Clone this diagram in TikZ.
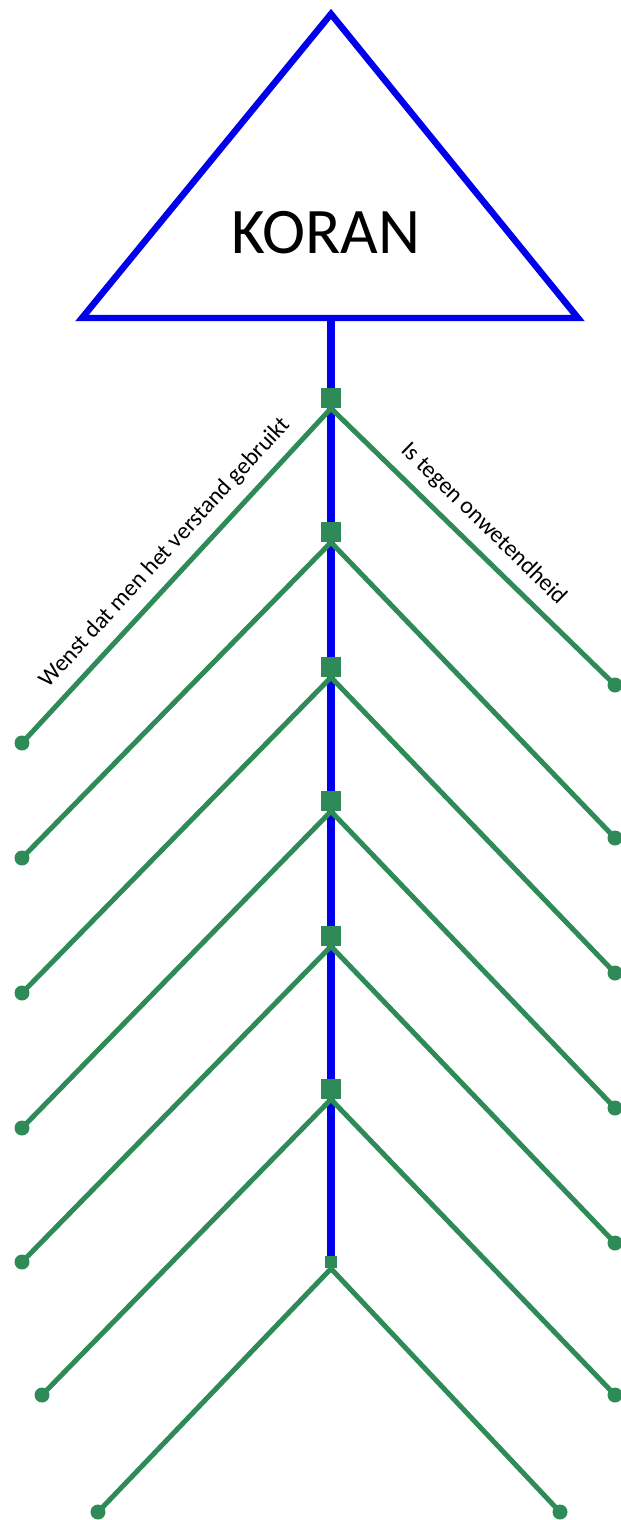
\documentclass[tikz,border=0pt]{standalone}
\usepackage{fontspec}
\setmainfont{Carlito}
\usetikzlibrary{positioning,backgrounds}

\definecolor{spineblue}{RGB}{0,0,235}
\definecolor{branchgreen}{RGB}{46,139,87}

\begin{document}
\begin{tikzpicture}[
    x=0.02cm, y=-0.02cm,
    tri/.style={draw=spineblue, line width=0.13cm, line join=miter},
    spine/.style={draw=spineblue, line width=0.17cm},
    joint/.style={fill=branchgreen, minimum size=0.4cm, inner sep=0pt},
    smalljoint/.style={fill=branchgreen, minimum size=0.25cm, inner sep=0pt},
    leaf/.style={circle, fill=branchgreen, minimum size=0.3cm, inner sep=0pt},
    branch/.style={draw=branchgreen, line width=0.1cm},
    lbl/.style={sloped, above, inner sep=0.22cm, font=\fontsize{13.5}{16}\selectfont}
]
\useasboundingbox (0,0) rectangle (620,1520);

% head of the fishbone
\coordinate (apex) at (331,14);
\coordinate (baseL) at (82,318);
\coordinate (baseR) at (578,318);
\coordinate (base) at (331,318);
\draw[tri] (apex) -- (baseR) -- (baseL) -- cycle;
\node[font=\fontsize{37}{40}\selectfont] (koran) at (326,233) {KORAN};

% joints on the spine
\foreach \i/\y in {1/398,2/532,3/667,4/801,5/936,6/1089}
    \node[joint] (j\i) at (331,\y) {};
\node[smalljoint] (j7) at (331,1262) {};

% ends of the branches
\foreach \i/\x/\y in {1/22/743,2/22/858,3/22/993,4/22/1128,5/22/1262,6/42/1395,7/98/1512}
    \node[leaf] (l\i) at (\x,\y) {};
\foreach \i/\x/\y in {1/615/685,2/615/838,3/615/973,4/615/1108,5/615/1243,6/615/1395,7/560/1512}
    \node[leaf] (r\i) at (\x,\y) {};

\begin{scope}[on background layer]
\draw[spine] (base) -- (j7.center);
\draw[branch] (j1.south) -- node[lbl, pos=.48] (wens) {Wenst dat men het verstand gebruikt} (l1.center);
\draw[branch] (j1.south) -- node[lbl, pos=.48] (tegen) {Is tegen onwetendheid} (r1.center);
\foreach \i in {2,...,7} {
    \draw[branch] (j\i.south) -- (l\i.center);
    \draw[branch] (j\i.south) -- (r\i.center);
}
\end{scope}
\end{tikzpicture}
\end{document}
